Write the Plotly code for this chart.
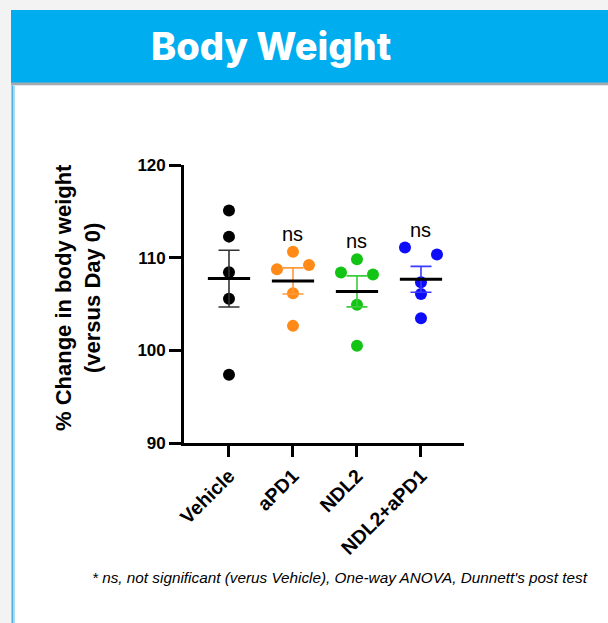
import numpy as np
import plotly.graph_objects as go

# ---------------- data ----------------
categories = ["Vehicle", "aPD1", "NDL2", "NDL2+aPD1"]
vehicle = [115.08, 112.27, 108.43, 105.56, 97.36]
apd1 = [110.65, 108.76, 109.22, 106.17, 102.64]
ndl2 = [109.83, 108.39, 108.18, 104.91, 100.49]
ndl2_apd1 = [111.09, 110.33, 107.35, 106.09, 103.47]
# horizontal offsets of the dots (category units)
jitter_vehicle = [0.0, 0.0, 0.0, 0.0, 0.0]
jitter_apd1 = [0.0, -0.25, 0.25, 0.0, 0.0]
jitter_ndl2 = [0.0, -0.25, 0.25, 0.0, 0.0]
jitter_ndl2_apd1 = [-0.25, 0.25, 0.0, 0.0, 0.0]
sig_labels = ["", "ns", "ns", "ns"]
y_ticks = [90, 100, 110, 120]

groups = [vehicle, apd1, ndl2, ndl2_apd1]
jitters = [jitter_vehicle, jitter_apd1, jitter_ndl2, jitter_ndl2_apd1]
colors = ["#000000", "#ff8a17", "#14c414", "#0d0dfa"]
err_colors = ["#333333", "#ff9a3a", "#3ccc3c", "#3a3aff"]

W, H = 608, 623
L, R, T, B = 184, 144, 165, 180
PW, PH = W - L - R, H - T - B


def px(x):
    return (x - L) / PW


def py(y):
    return (H - B - y) / PH


fig = go.Figure()

for i, (vals, jit) in enumerate(zip(groups, jitters)):
    vals = np.array(vals)
    xs = [i + j for j in jit]
    fig.add_trace(go.Scatter(x=xs, y=vals, mode="markers",
                             marker=dict(size=12, color=colors[i], line=dict(width=0)),
                             showlegend=False, hoverinfo="y"))

for i, vals in enumerate(groups):
    vals = np.array(vals)
    m = vals.mean()
    sem = vals.std(ddof=1) / np.sqrt(len(vals))
    fig.add_trace(go.Scatter(x=[i], y=[m], mode="markers",
                             marker=dict(size=0.1, color="rgba(0,0,0,0)"),
                             error_y=dict(type="data", array=[sem], visible=True,
                                          color=err_colors[i], thickness=1.6, width=10.5),
                             showlegend=False, hoverinfo="skip"))
    fig.add_trace(go.Scatter(x=[i - 0.33, i + 0.33], y=[m, m], mode="lines",
                             line=dict(color="black", width=3),
                             showlegend=False, hoverinfo="skip"))

for i, (lab, vals) in enumerate(zip(sig_labels, groups)):
    if lab:
        fig.add_annotation(x=i, y=max(vals), text=lab, showarrow=False,
                           xref="x", yref="y", yanchor="middle", yshift=18,
                           font=dict(family="Liberation Sans", size=20, color="black"))

shapes = []
# header band
shapes.append(dict(type="rect", xref="paper", yref="paper",
                   x0=px(11), x1=px(620), y0=py(83), y1=py(10),
                   fillcolor="#00aeef", line=dict(width=0), layer="below"))
# grey line under band
shapes.append(dict(type="rect", xref="paper", yref="paper",
                   x0=px(11), x1=px(620), y0=py(85.5), y1=py(82.5),
                   fillcolor="#a3abb0", line=dict(width=0), layer="below"))
# white panel
shapes.append(dict(type="rect", xref="paper", yref="paper",
                   x0=px(12), x1=px(620), y0=py(630), y1=py(85.5),
                   fillcolor="#ffffff", line=dict(width=0), layer="below"))
# panel left border
shapes.append(dict(type="rect", xref="paper", yref="paper",
                   x0=px(11.5), x1=px(13.5), y0=py(630), y1=py(85.5),
                   fillcolor="#4fb0e0", line=dict(width=0), layer="below"))
shapes.append(dict(type="rect", xref="paper", yref="paper",
                   x0=px(13.5), x1=px(15), y0=py(630), y1=py(85.5),
                   fillcolor="#a9dcf3", line=dict(width=0), layer="below"))

fig.update_layout(shapes=shapes)

# title
fig.add_annotation(text="Body Weight", xref="paper", yref="paper",
                   x=px(271), y=py(46), xanchor="center", yanchor="middle",
                   showarrow=False,
                   font=dict(family="Inter", size=38, color="white", weight=800))
# y title
fig.add_annotation(text="% Change in body weight<br>(versus Day 0)", xref="paper", yref="paper",
                   x=px(78), y=py(298), xanchor="center", yanchor="middle",
                   showarrow=False, textangle=-90,
                   font=dict(family="Liberation Sans", size=22, color="black", weight="bold"))
# footnote
fig.add_annotation(text="<i>* ns, not significant (verus Vehicle), One-way ANOVA, Dunnett's post test</i>",
                   xref="paper", yref="paper", x=px(340), y=py(577),
                   xanchor="center", yanchor="middle", showarrow=False,
                   font=dict(family="Liberation Sans", size=15.3, color="black"))

fig.update_xaxes(range=[-0.703, 3.672], tickvals=list(range(len(categories))), ticktext=categories,
                 tickangle=-45, showgrid=False, zeroline=False,
                 showline=True, linecolor="black", linewidth=2.7,
                 ticks="outside", ticklen=11, tickwidth=2.7, tickcolor="black",
                 tickfont=dict(family="Liberation Sans", size=19.5, color="black", weight="bold"))
fig.update_yaxes(range=[90, 120], tickvals=y_ticks, showgrid=False, zeroline=False,
                 showline=True, linecolor="black", linewidth=2.7,
                 ticks="outside", ticklen=12, tickwidth=2.7, tickcolor="black",
                 tickfont=dict(family="Liberation Sans", size=17, color="black", weight="bold"))

fig.update_layout(width=W, height=H, margin=dict(l=L, r=R, t=T, b=B),
                  paper_bgcolor="#f3f3f3", plot_bgcolor="rgba(0,0,0,0)",
                  showlegend=False)

fig.write_html("out.html", config={"displayModeBar": False},
               post_script="document.body.style.margin='0px';document.body.style.overflow='hidden';")
